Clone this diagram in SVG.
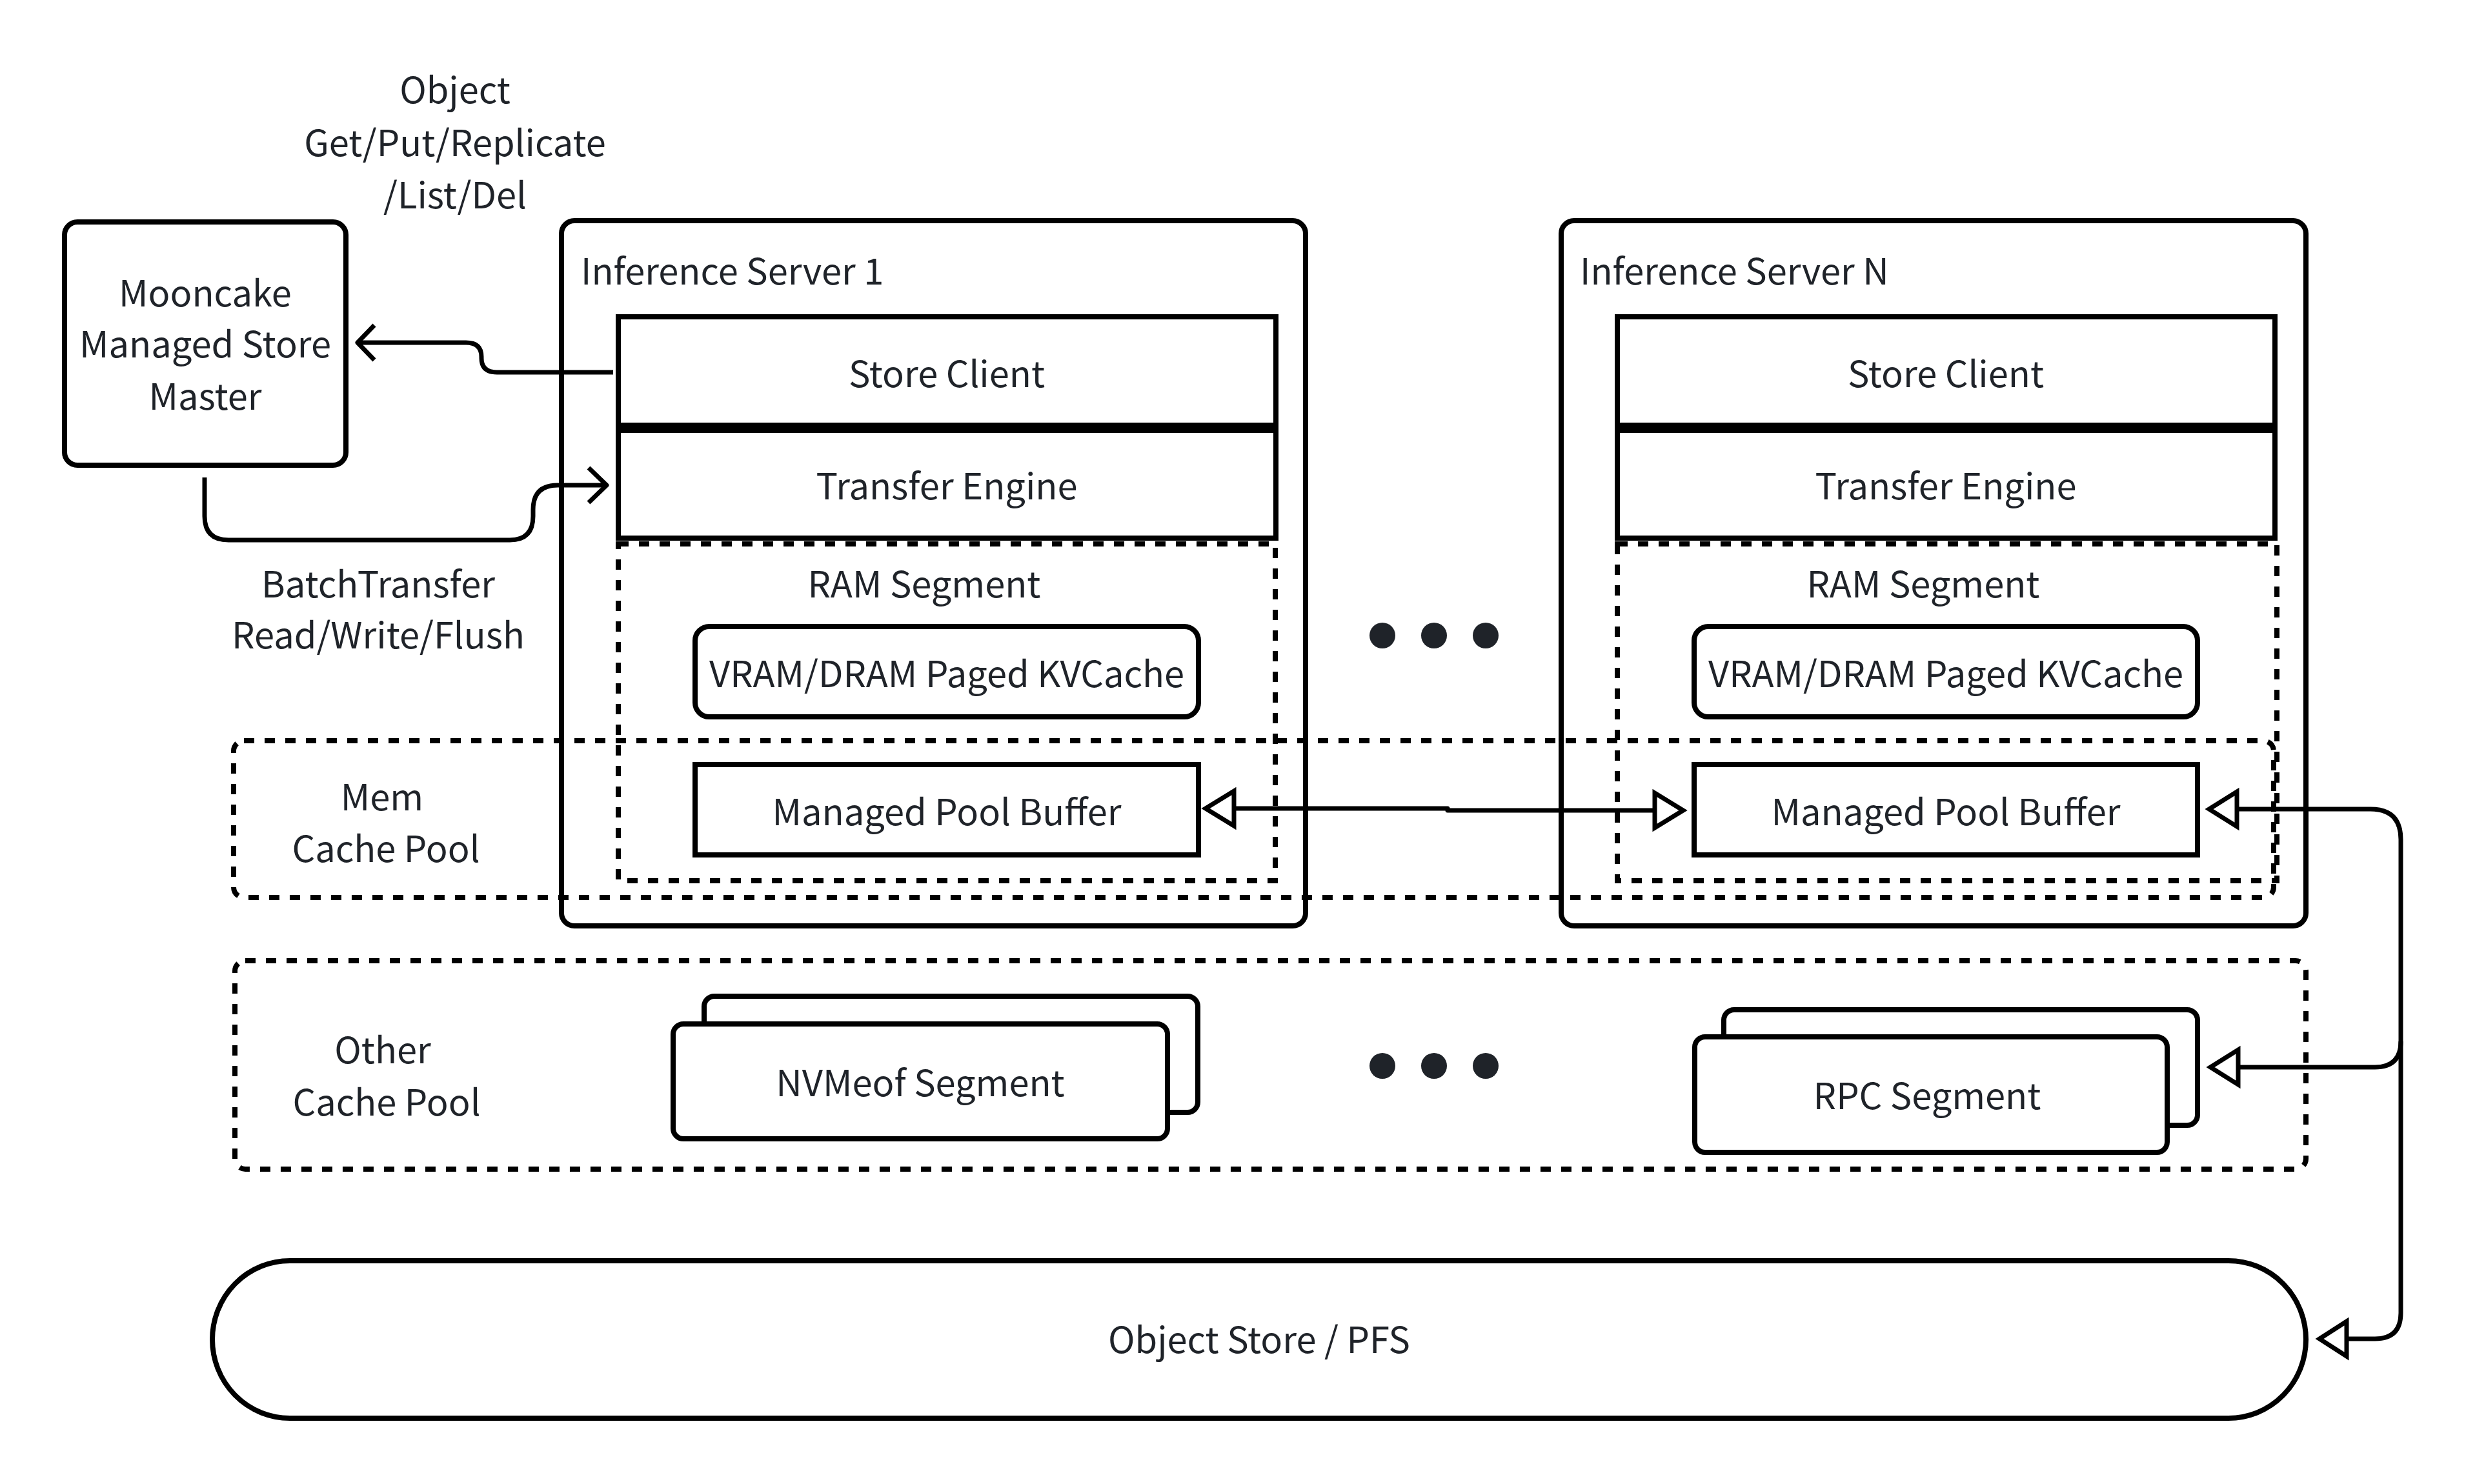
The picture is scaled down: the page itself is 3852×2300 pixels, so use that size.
<svg xmlns="http://www.w3.org/2000/svg" width="3852" height="2300" viewBox="0 0 3852 2300">
<defs>
<style>
.t{font-family:"Noto Sans CJK SC","Noto Sans",sans-serif;font-size:56px;fill:#1f2329;text-anchor:middle}
.tl{text-anchor:start}
.box{fill:none;stroke:#000;stroke-width:8}
.wbox{fill:#fff;stroke:#000;stroke-width:8}
.dash{fill:none;stroke:#000;stroke-width:8;stroke-dasharray:16 16}
.ln{fill:none;stroke:#000;stroke-width:7;stroke-linejoin:round}
.tri{fill:#fff;stroke:#000;stroke-width:7;stroke-linejoin:miter}
</style>
</defs>
<rect width="3852" height="2300" fill="#fff"/>

<g id="mem-cache-pool">
<rect class="dash" x="362" y="1148" width="3161" height="243" rx="16"/>
<text class="t" x="592" y="1256">Mem</text>
<text class="t" x="598" y="1336">Cache Pool</text>
</g>

<g id="master">
<rect class="box" x="100" y="344" width="436" height="377" rx="20"/>
<text class="t" x="318" y="475">Mooncake</text>
<text class="t" x="318" y="554">Managed Store</text>
<text class="t" x="318" y="635">Master</text>
</g>

<g id="server1">
<rect class="box" x="870" y="342" width="1153" height="1093" rx="20"/>
<text class="t tl" x="900" y="441">Inference Server 1</text>
<g id="store-client-1">
<rect class="box" x="958" y="491" width="1019" height="168"/>
<text class="t" x="1467" y="600">Store Client</text>
</g>
<g id="transfer-engine-1">
<rect class="box" x="958" y="667" width="1019" height="167"/>
<text class="t" x="1467" y="774">Transfer Engine</text>
</g>
<g id="ram-segment-1">
<rect class="dash" x="958" y="843" width="1018" height="522"/>
<text class="t" x="1432" y="926">RAM Segment</text>
</g>
<g id="kvcache-1">
<rect class="box" x="1077" y="971" width="780" height="140" rx="22"/>
<text class="t" x="1467" y="1065">VRAM/DRAM Paged KVCache</text>
</g>
<g id="pool-buffer-1">
<rect class="box" x="1077" y="1185" width="780" height="140"/>
<text class="t" x="1467" y="1279">Managed Pool Buffer</text>
</g>
</g>

<g id="serverN">
<rect class="box" x="2419" y="342" width="1154" height="1093" rx="20"/>
<text class="t tl" x="2448" y="441">Inference Server N</text>
<g id="store-client-N">
<rect class="box" x="2506" y="491" width="1019" height="168"/>
<text class="t" x="3015" y="600">Store Client</text>
</g>
<g id="transfer-engine-N">
<rect class="box" x="2506" y="667" width="1019" height="167"/>
<text class="t" x="3015" y="774">Transfer Engine</text>
</g>
<g id="ram-segment-N">
<rect class="dash" x="2506" y="843" width="1022" height="522"/>
<text class="t" x="2980" y="926">RAM Segment</text>
</g>
<g id="kvcache-N">
<rect class="box" x="2625" y="971" width="780" height="140" rx="22"/>
<text class="t" x="3015" y="1065">VRAM/DRAM Paged KVCache</text>
</g>
<g id="pool-buffer-N">
<rect class="box" x="2625" y="1185" width="780" height="140"/>
<text class="t" x="3015" y="1279">Managed Pool Buffer</text>
</g>
</g>

<g id="dots-top" fill="#1f2329">
<circle cx="2142" cy="985" r="20"/>
<circle cx="2222" cy="985" r="20"/>
<circle cx="2302" cy="985" r="20"/>
</g>

<g id="other-cache-pool">
<rect class="dash" x="364" y="1489" width="3209" height="323" rx="16"/>
<text class="t" x="593" y="1648">Other</text>
<text class="t" x="599" y="1729">Cache Pool</text>
</g>

<g id="nvmeof-segment">
<rect class="wbox" x="1091" y="1544" width="765" height="180" rx="16"/>
<rect class="wbox" x="1043" y="1587" width="766" height="178" rx="16"/>
<text class="t" x="1426" y="1699">NVMeof Segment</text>
</g>

<g id="dots-bottom" fill="#1f2329">
<circle cx="2142" cy="1652" r="20"/>
<circle cx="2222" cy="1652" r="20"/>
<circle cx="2302" cy="1652" r="20"/>
</g>

<g id="rpc-segment">
<rect class="wbox" x="2671" y="1565" width="734" height="179" rx="16"/>
<rect class="wbox" x="2626" y="1607" width="732" height="179" rx="16"/>
<text class="t" x="2986" y="1719">RPC Segment</text>
</g>

<g id="object-store">
<rect class="box" x="329" y="1954" width="3244" height="244" rx="120" ry="122"/>
<text class="t" x="1951" y="2097">Object Store / PFS</text>
</g>

<g id="labels">
<text class="t" x="705" y="160">Object</text>
<text class="t" x="705" y="242">Get/Put/Replicate</text>
<text class="t" x="705" y="323">/List/Del</text>
<text class="t" x="586" y="926">BatchTransfer</text>
<text class="t" x="586" y="1005">Read/Write/Flush</text>
</g>

<g id="connectors">
<path class="ln" d="M 950 577 H 770 Q 746 577 746 555 V 553 Q 746 531 722 531 H 558"/>
<path class="ln" d="M 580 504 L 554 531 L 580 558"/>
<path class="ln" d="M 317 740 V 800 Q 317 837 354 837 H 790 Q 826 837 826 800 V 790 Q 826 752 864 752 H 938"/>
<path class="ln" d="M 912 725 L 940 752 L 912 779"/>
<path class="ln" d="M 1912 1253 H 2243 V 1256 H 2564"/>
<path class="tri" d="M 1868 1253 L 1912 1226 L 1912 1280 Z"/>
<path class="tri" d="M 2608 1256 L 2564 1229 L 2564 1283 Z"/>
<path class="ln" d="M 3466 1254 H 3673 Q 3720 1254 3720 1301 V 2035 Q 3720 2075 3680 2075 H 3636"/>
<path class="ln" d="M 3720 1614 Q 3720 1654 3680 1654 H 3468"/>
<path class="tri" d="M 3423 1254 L 3466 1227 L 3466 1281 Z"/>
<path class="tri" d="M 3425 1654 L 3468 1627 L 3468 1681 Z"/>
<path class="tri" d="M 3594 2075 L 3636 2048 L 3636 2102 Z"/>
</g>
</svg>
